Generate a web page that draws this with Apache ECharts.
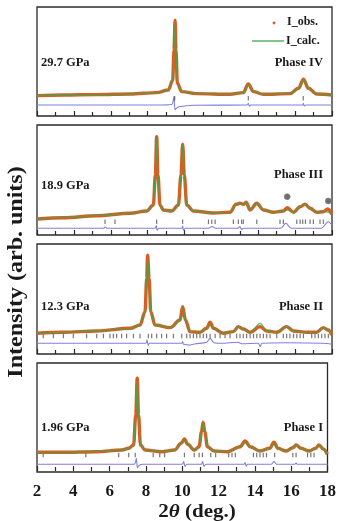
<!DOCTYPE html>
<html><head><meta charset="utf-8">
<script src="https://cdn.jsdelivr.net/npm/echarts@6/dist/echarts.min.js"></script>
<style>html,body{margin:0;padding:0;background:#fff}#c{width:339px;height:521px}</style>
</head><body><div id="c"></div>
<script>
// ---------- data (2θ in degrees, intensity in arb. units) ----------
const xTickLabels = [2, 4, 6, 8, 10, 12, 14, 16, 18];
const pressures = ['29.7 GPa', '18.9 GPa', '12.3 GPa', '1.96 GPa'];
const phases = ['Phase IV', 'Phase III', 'Phase II', 'Phase I'];

// Phase IV, 29.7 GPa
const obsIV = [[2.0,23.7],[3.43,24.3],[5.24,24.7],[7.05,25.3],[8.49,26.7],[9.12,29.3],[9.36,39],[9.43,69],[9.49,99],[9.54,69],[9.61,36],[9.85,27.7],[10.66,25.7],[12.47,25],[13.19,26.7],[13.46,35.3],[13.74,27.7],[14.28,25],[15.72,25.7],[16.18,31],[16.45,40],[16.72,31],[17.17,25.3],[17.99,24.3]];
const calcIV = [[2.0,23.7],[3.43,24.3],[5.24,24.7],[7.05,25.3],[8.49,26.7],[9.12,29.3],[9.36,39],[9.43,69],[9.49,97],[9.54,69],[9.61,36],[9.85,27.7],[10.66,25.7],[12.47,25],[13.19,26.7],[13.46,35],[13.74,27.7],[14.28,25],[15.72,25.7],[16.18,31],[16.45,39.5],[16.72,31],[17.17,25.3],[17.99,24.3]];
const diffIV = [[2,14.3],[8.5,14.3],[9.3,14.8],[9.42,22.7],[9.49,9.3],[9.56,11],[9.7,12.5],[10.5,14],[13.4,14.3],[13.46,16],[13.52,13],[13.6,14.3],[16.4,14.3],[16.45,16],[16.5,13.3],[16.6,14.3],[18,14.3]];
const braggIV = [9.47, 13.46, 16.44];
const braggIVLevel = 21;

// Phase III, 18.9 GPa
const obsIII = [[2.0,21],[3.43,22.3],[5.24,24.3],[7.05,26.7],[7.95,29],[8.31,35],[8.42,65],[8.49,103.3],[8.56,65],[8.67,35],[8.85,30],[9.31,29],[9.67,35],[9.81,65],[9.9,95.7],[9.99,65],[10.12,35],[10.48,29],[11.57,27],[12.47,27.7],[12.8,35.7],[13.01,36.7],[13.19,35.7],[13.34,37.7],[13.56,30],[13.92,36.7],[14.28,30],[14.82,27.7],[15.36,29],[15.58,32.3],[15.91,27.7],[16.27,33.3],[16.54,35.7],[16.81,31.7],[17.17,27.7],[17.53,28.3],[17.77,31],[17.99,25.7]];
const calcIII = [[2.0,21],[3.43,22.3],[5.24,24.3],[7.05,26.7],[7.95,29],[8.31,35],[8.42,65],[8.49,102],[8.56,65],[8.67,35],[8.85,30],[9.31,29],[9.67,35],[9.81,65],[9.9,95],[9.99,65],[10.12,35],[10.48,29],[11.57,27],[12.47,27.7],[12.8,35.7],[13.01,36.7],[13.19,35.7],[13.34,37.7],[13.56,30],[13.92,36.7],[14.28,30],[14.82,27.7],[15.36,29],[15.58,30],[15.91,27.7],[16.27,33.3],[16.54,35.7],[16.81,31.7],[17.17,27.7],[17.53,28.3],[17.77,28],[17.99,25.7]];
const diffIII = [[2,11.7],[5.6,11.7],[5.7,13],[5.8,11.7],[8.4,11.7],[8.47,14.5],[8.52,9.5],[8.6,11.7],[9.85,11.7],[9.9,14],[9.95,9.5],[10.05,11.7],[11.3,11.7],[11.5,13.5],[11.7,11.7],[12.9,11.7],[13.0,13.5],[13.1,10.5],[13.2,11.7],[15.2,11.7],[15.5,16.7],[15.8,11.7],[17.4,11.7],[17.8,18.3],[18,15]];
const braggIII = [5.69,6.23,8.49,9.9,11.3,11.48,11.66,12.65,12.92,13.1,13.19,13.92,15.18,15.36,16.09,16.27,16.41,16.56,16.81,16.99,17.35,17.53];
const braggIIILevel = 18.3;
const starsIII = [[15.57,43.3],[17.8,39]];

// Phase II, 12.3 GPa
const obsII = [[2.0,30],[3.43,31],[5.24,32.3],[7.05,35],[7.59,38.3],[7.86,51.7],[7.95,85],[8.0,108],[8.08,85],[8.17,51.7],[8.4,38.3],[9.22,35.7],[9.76,43.3],[9.9,56.7],[10.05,43.3],[10.3,31.7],[10.84,31],[11.2,35],[11.39,41],[11.57,35],[12.1,30],[12.65,31.7],[12.92,36.7],[13.19,34.3],[13.56,31],[14.1,36.7],[14.46,32.3],[15.0,31],[15.54,36.7],[15.91,32.3],[16.63,31],[17.17,31],[17.53,35.7],[17.8,33.3],[17.99,28.3]];
const calcII = [[2.0,30],[3.43,31],[5.24,32.3],[7.05,35],[7.59,38.3],[7.86,51.7],[7.95,85],[8.0,106],[8.08,85],[8.17,51.7],[8.4,38.3],[9.22,35.7],[9.76,43.3],[9.9,56],[10.05,43.3],[10.3,31.7],[10.84,31],[11.2,35],[11.39,39],[11.57,35],[12.1,30],[12.65,31.7],[12.92,36.7],[13.19,34.3],[13.56,31],[14.1,40],[14.46,32.3],[15.0,31],[15.54,36.7],[15.91,32.3],[16.63,31],[17.17,31],[17.53,35.7],[17.8,33.3],[17.99,28.3]];
const diffII = [[2,20],[7.9,20],[7.97,23.3],[8.03,18],[8.1,20],[9.85,20],[9.9,21.7],[9.95,19],[10.3,18.3],[10.6,19.5],[11.2,21],[11.39,25],[11.6,20.5],[12,20],[12.9,21],[13.1,19.5],[14.0,20],[14.1,16.7],[14.2,20],[15.5,20.5],[17.5,20],[18,19]];
const braggII = [2.34,2.89,3.43,3.97,4.69,5.24,5.6,5.96,6.14,6.32,6.59,6.86,7.23,7.59,8.04,8.22,8.49,8.76,9.03,9.4,9.85,10.12,10.3,10.48,10.66,10.84,11.02,11.2,11.39,11.66,11.93,12.2,12.47,12.83,13.01,13.19,13.37,13.56,13.74,13.92,14.1,14.28,14.46,14.64,15.0,15.36,15.54,15.72,15.91,16.09,16.27,16.45,16.9,17.08,17.26,17.44,17.62,17.8];
const braggIILevel = 27.3;

// Phase I, 1.96 GPa
const obsI = [[2.0,18.7],[3.43,18.7],[5.24,19.3],[6.68,21],[7.05,22.7],[7.32,26],[7.44,56],[7.52,92.7],[7.59,56],[7.7,26],[7.95,21],[8.85,19.3],[9.58,21],[9.94,27.7],[10.12,32],[10.3,26.7],[10.66,21],[10.93,24.3],[11.06,39.3],[11.15,48.7],[11.24,39.3],[11.39,24.3],[11.75,20],[12.47,19.3],[13.19,24.3],[13.46,30],[13.74,24.3],[14.28,20],[14.82,22.7],[15.05,28.7],[15.27,22.7],[15.72,20],[16.09,23.3],[16.27,26],[16.54,22.7],[16.99,20],[17.35,22.7],[17.53,26],[17.77,22],[17.99,16.7]];
const calcI = [[2.0,18.7],[3.43,18.7],[5.24,19.3],[6.68,21],[7.05,22.7],[7.32,26],[7.44,56],[7.52,91],[7.59,56],[7.7,26],[7.95,21],[8.85,19.3],[9.58,21],[9.94,27.7],[10.12,31],[10.3,26.7],[10.66,21],[10.93,24.3],[11.06,39.3],[11.15,48],[11.24,39.3],[11.39,24.3],[11.75,20],[12.47,19.3],[13.19,24.3],[13.46,29],[13.74,24.3],[14.28,20],[14.82,22.7],[15.05,27],[15.27,22.7],[15.72,20],[16.09,23.3],[16.27,26],[16.54,22.7],[16.99,20],[17.35,22.7],[17.53,26],[17.77,22],[17.99,16.7]];
const diffI = [[2,6.7],[7.35,6.7],[7.47,12.7],[7.53,3.3],[7.62,5.5],[7.8,6.7],[10.0,6.7],[10.08,9.5],[10.15,4.5],[10.25,6.7],[11.05,6.7],[11.12,9.5],[11.2,4.5],[11.3,6.7],[13.4,6.7],[13.46,8.5],[13.52,5],[13.6,6.7],[14.9,6.7],[15.05,9.5],[15.2,6.7],[16.2,6.7],[16.27,8],[16.35,6.7],[18,6.7]];
const braggI = [2.34,4.69,6.5,7.05,7.41,8.4,8.76,9.03,10.12,10.66,10.93,11.11,11.57,11.84,12.56,12.74,12.92,13.92,14.1,14.28,14.46,14.64,15.09,16.09,16.27,16.9,17.08,17.26];
const braggILevel = 16;

// ---------- chart ----------
const panels = [
  {obs: obsIV, calc: calcIV, diff: diffIV, bragg: braggIV, level: braggIVLevel, stars: null},
  {obs: obsIII, calc: calcIII, diff: diffIII, bragg: braggIII, level: braggIIILevel, stars: starsIII},
  {obs: obsII, calc: calcII, diff: diffII, bragg: braggII, level: braggIILevel, stars: null},
  {obs: obsI, calc: calcI, diff: diffI, bragg: braggI, level: braggILevel, stars: null}
];
const gridTops = [7, 125, 244, 363];
const gridHeights = [109, 110, 110, 109];
const yMins = [3.3, 5, 9.3, -1];
const serif = '"Liberation Serif", "DejaVu Serif", serif';
const ORANGE = '#e2581f', GREEN = '#3ea84c', BLUE = '#7f80d9', TICK = '#555';

const grid = [], xAxis = [], yAxis = [], series = [];
panels.forEach((p, i) => {
  grid.push({left: 37, width: 295, top: gridTops[i], height: gridHeights[i], show: true,
    borderColor: '#2a2a2a', borderWidth: 1.3, backgroundColor: 'transparent'});
  const last = i === panels.length - 1;
  xAxis.push({gridIndex: i, type: 'value', min: 2, max: 18, interval: 2,
    axisLine: {show: false},
    axisTick: {show: true, inside: true, length: 5, lineStyle: {color: '#2a2a2a', width: 1.2}},
    minorTick: {show: true, splitNumber: 2, length: 4, lineStyle: {color: '#2a2a2a', width: 1.2}},
    splitLine: {show: false},
    axisLabel: {show: last, fontFamily: serif, fontWeight: 'bold', fontSize: 17, color: '#1a1a1a', margin: 11,
      formatter: v => xTickLabels.includes(v) ? String(v) : ''}
  });
  yAxis.push({gridIndex: i, type: 'value', min: yMins[i], max: yMins[i] + gridHeights[i],
    axisLine: {show: false}, axisTick: {show: false}, axisLabel: {show: false}, splitLine: {show: false}});
  series.push({type: 'line', xAxisIndex: i, yAxisIndex: i, data: p.diff, showSymbol: false, smooth: 0.3,
    lineStyle: {color: BLUE, width: 1.1}, z: 2});
  series.push({type: 'scatter', xAxisIndex: i, yAxisIndex: i, data: p.bragg.map(x => [x, p.level]),
    symbol: 'rect', symbolSize: [1.2, 4.5], itemStyle: {color: TICK}, z: 3});
  series.push({type: 'line', xAxisIndex: i, yAxisIndex: i, data: p.obs, showSymbol: false, smooth: 0.35,
    smoothMonotone: 'x', lineStyle: {color: ORANGE, width: 3.4}, z: 4});
  series.push({type: 'line', xAxisIndex: i, yAxisIndex: i, data: p.calc, showSymbol: false, smooth: 0.35,
    smoothMonotone: 'x', lineStyle: {color: GREEN, width: 1.3, opacity: 0.85}, z: 5});
  if (p.stars) {
    series.push({type: 'scatter', xAxisIndex: i, yAxisIndex: i, data: p.stars, symbol: 'circle', symbolSize: 6,
      itemStyle: {color: '#4a4a4a', borderColor: '#888', borderWidth: 0.8}, z: 6});
  }
});

const txt = {fontFamily: serif, fontWeight: 'bold', fill: '#1a1a1a'};
const graphic = [];
const labelY = [63, 186, 307, 428];
const phaseY = [63, 175, 307, 428];
pressures.forEach((t, i) => {
  graphic.push({type: 'text', left: 41, top: labelY[i] - 7, style: Object.assign({text: t, fontSize: 12.5}, txt), z: 10});
  graphic.push({type: 'text', right: 339 - 323, top: phaseY[i] - 7, style: Object.assign({text: phases[i], fontSize: 12.5, textAlign: 'right'}, txt), z: 10});
});
// legend in the top panel
graphic.push({type: 'text', x: 287, y: 16, style: Object.assign({text: 'I_obs.', fontSize: 12}, txt), z: 10});
graphic.push({type: 'text', x: 286, y: 35, style: Object.assign({text: 'I_calc.', fontSize: 12}, txt), z: 10});
graphic.push({type: 'circle', shape: {cx: 274, cy: 23, r: 1.4}, style: {fill: ORANGE}, z: 10});
graphic.push({type: 'line', shape: {x1: 252, y1: 41, x2: 284, y2: 41}, style: {stroke: GREEN, lineWidth: 1.3}, z: 10});
// axis titles
graphic.push({type: 'text', x: 197, y: 512, scaleX: 1.08, style: {
  text: '{n|2}{t|θ}{n| (deg.)}', align: 'center', verticalAlign: 'middle', rich: {
    n: {fontFamily: serif, fontWeight: 'bold', fontSize: 19.5, fill: '#1a1a1a'},
    t: {fontFamily: serif, fontWeight: 'bold', fontStyle: 'italic', fontSize: 19.5, fill: '#1a1a1a'}}
}, z: 10});
graphic.push({type: 'text', x: 17, y: 272, rotation: Math.PI / 2, scaleX: 1.2, style: Object.assign({
  text: 'Intensity (arb. units)', fontSize: 20, align: 'center', verticalAlign: 'middle'}, txt), z: 10});

const chart = echarts.init(document.getElementById('c'), null, {renderer: 'canvas'});
chart.setOption({animation: false, backgroundColor: '#fff', grid, xAxis, yAxis, series, graphic});
</script>
</body></html>
